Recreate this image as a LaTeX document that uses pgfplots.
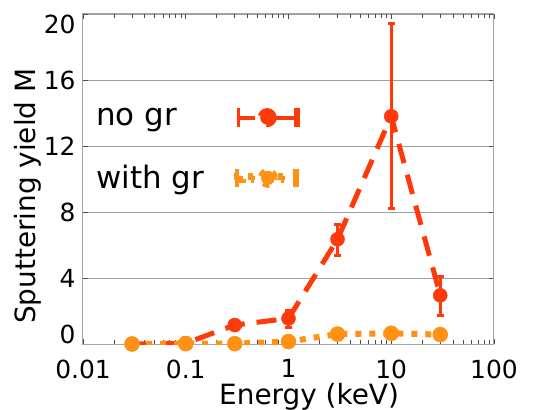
\documentclass[border=0pt]{standalone}
\usepackage{fontspec}
\setmainfont{DejaVu Sans}
\usepackage{pgfplots}
\pgfplotsset{compat=1.18}
\definecolor{cred}{RGB}{255,58,10}
\definecolor{corange}{RGB}{255,145,20}
\begin{document}
\begin{tikzpicture}
\path[use as bounding box] (-83bp,-66bp) rectangle (450bp,344bp);
\begin{axis}[
  at={(0,0)}, anchor=south west,
  scale only axis, width=411bp, height=330bp,
  xmode=log, xmin=0.01, xmax=100, ymin=0, ymax=20,
  xtick={0.01,0.1,1,10,100}, xticklabels={0.01,0.1,1,10,100},
  minor xtick={0.02,0.03,0.04,0.05,0.06,0.07,0.08,0.09,0.2,0.3,0.4,0.5,0.6,0.7,0.8,0.9,2,3,4,5,6,7,8,9,20,30,40,50,60,70,80,90},
  ytick={0,4,8,12,16,20},
  yticklabels={\raisebox{10bp}[0.73em][0pt]{0},4,8,12,16,\raisebox{-10bp}[0.73em][0pt]{20}},
  ymajorgrids, grid style={gray!75, line width=0.8bp},
  axis line style={gray!70, line width=1bp},
  tick style={black!70, line width=0.8bp},
  major tick length=5bp, minor tick length=4bp,
  tick label style={font=\fontsize{25}{30}\selectfont},
  xticklabel style={yshift=-12bp},
  yticklabel style={xshift=-4bp},
  xlabel={Energy (keV)}, ylabel={Sputtering yield M},
  every axis x label/.style={at={(axis description cs:0.55,0)}, yshift=-53bp, anchor=center, font=\fontsize{28}{34}\selectfont},
  every axis y label/.style={at={(axis description cs:0,0.448)}, xshift=-55bp, rotate=90, anchor=center, font=\fontsize{28}{34}\selectfont},
  legend plot pos=right,
  legend cell align=left,
  legend style={at={(axis description cs:0.027,0.725)}, anchor=north west, draw=none, fill=none,
    font=\fontsize{31}{37}\selectfont, row sep=33bp, inner sep=0pt},
]
\addplot[cred, line width=5bp, dash pattern=on 20bp off 12bp, mark=*, mark size=7bp, mark options={solid, line width=0.5bp},
  legend image code/.code={
    \path (0bp,0bp);
    \draw[solid, line width=3.3bp] (29.7bp,-9.5bp)--(29.7bp,9.5bp);
    \draw[solid, line width=4bp] (28bp,0bp)--(45.7bp,0bp);
    \fill (58.3bp,0bp) circle (7bp);
    \draw[solid, line width=4bp] (58.3bp,0bp)--(84.7bp,0bp);
    \draw[solid, line width=6bp] (87.7bp,-9.7bp)--(87.7bp,9.7bp);
  },
  error bars/.cd, y dir=both, y explicit,
  error bar style={solid, line width=3bp},
  error mark options={rotate=90, mark size=3.5bp, line width=3bp, solid}]
coordinates {
  (0.03,0)
  (0.1,0.05)
  (0.3,1.15)
  (1,1.55) += (0,0.5) -= (0,0.55)
  (3,6.35) += (0,0.9) -= (0,1.0)
  (10,13.8) += (0,5.6) -= (0,5.6)
  (30,2.95) += (0,1.15) -= (0,1.2)
};
\addlegendentry{no gr}
\addplot[corange, line width=6bp, dash pattern=on 6bp off 8bp, mark=*, mark size=7.5bp, mark options={solid, line width=0.5bp},
  legend image code/.code={
    \path (0bp,0bp);
    \draw[solid, line width=3.7bp] (28.2bp,-9.2bp)--(28.2bp,9.2bp);
    \fill (28bp,-2.2bp) rectangle (34bp,2.2bp);
    \fill (42.3bp,-2.2bp) rectangle (46.3bp,2.2bp);
    \fill (59bp,0bp) circle (7bp);
    \fill (72.3bp,-2.2bp) rectangle (76.3bp,2.2bp);
    \draw[solid, line width=5.5bp] (87.3bp,-9.2bp)--(87.3bp,9.2bp);
  }]
coordinates {
  (0.03,0)
  (0.1,0.02)
  (0.3,0.02)
  (1,0.15)
  (3,0.6)
  (10,0.65)
  (30,0.57)
};
\addlegendentry{with gr}
\end{axis}
\end{tikzpicture}
\end{document}
